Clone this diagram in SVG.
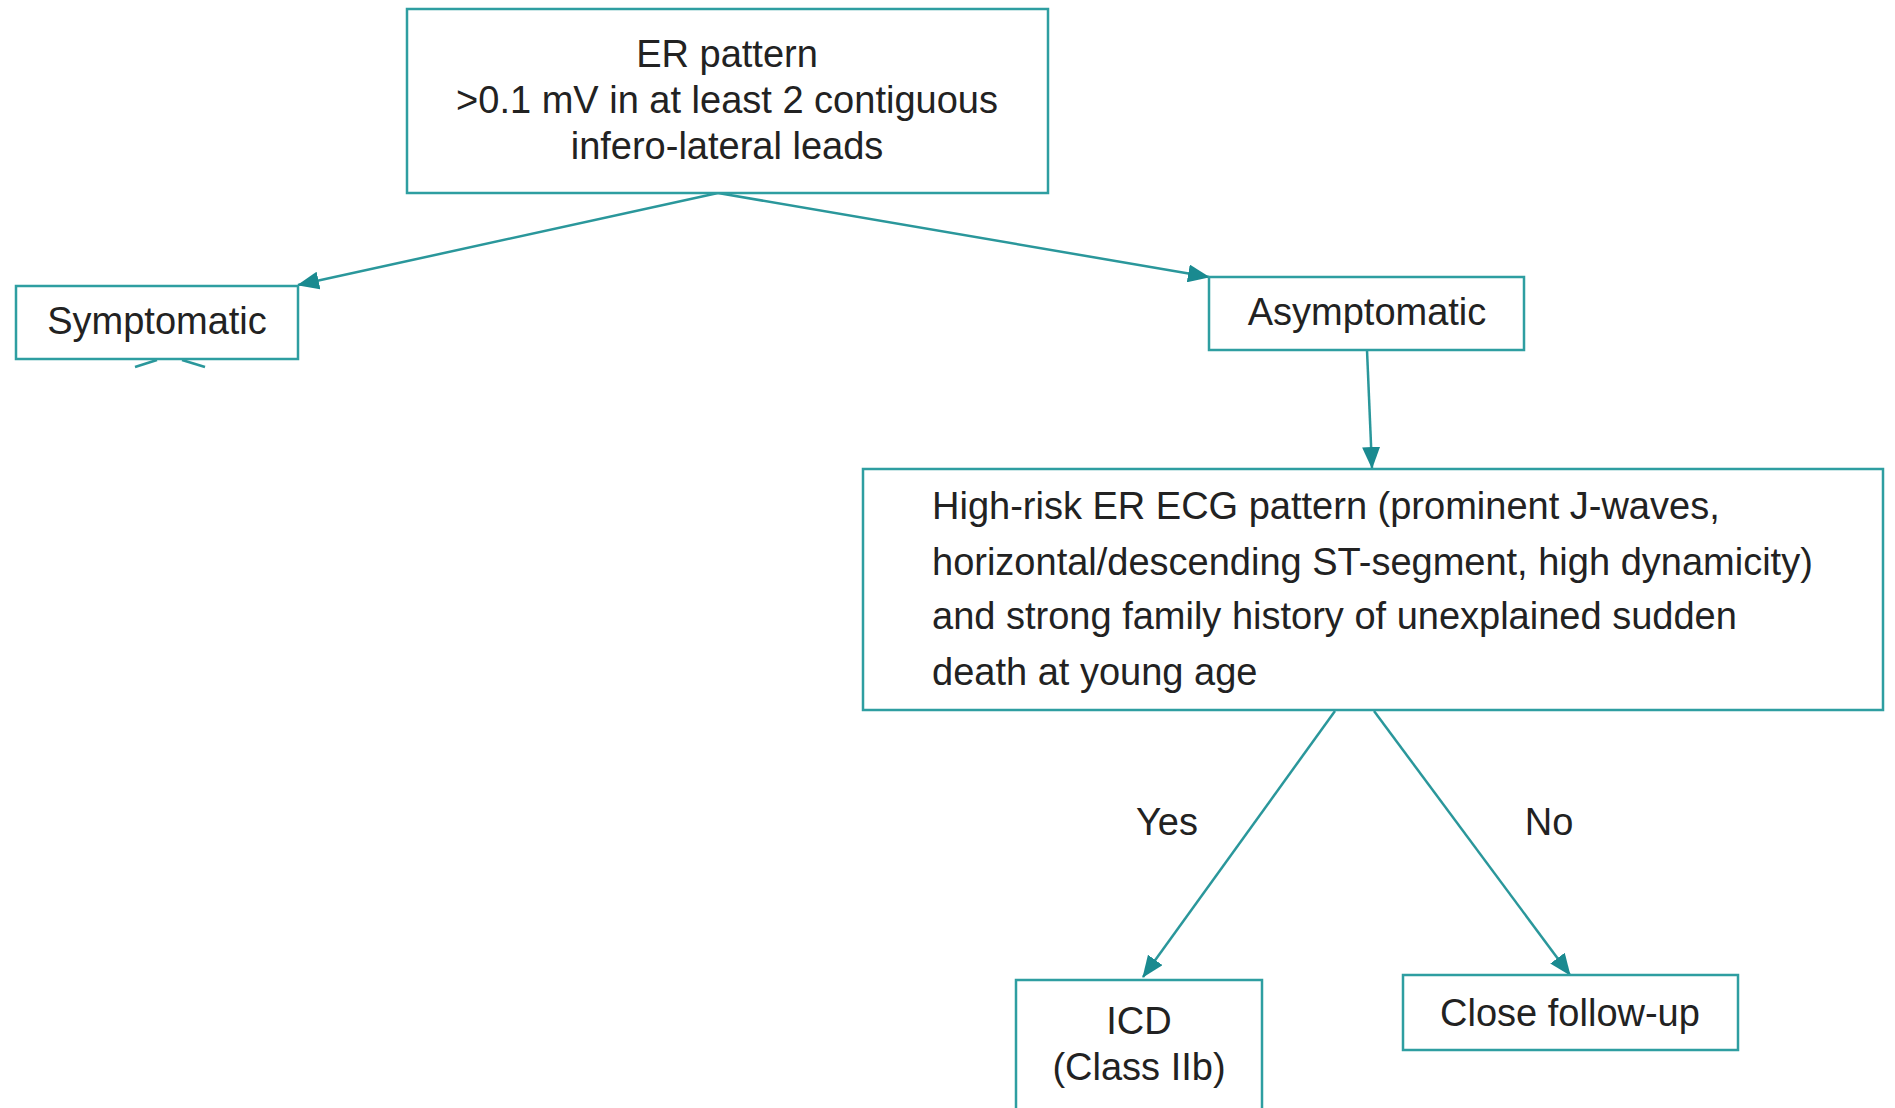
<svg xmlns="http://www.w3.org/2000/svg" width="1895" height="1108" viewBox="0 0 1895 1108">
<defs>
<marker id="arr" markerUnits="userSpaceOnUse" markerWidth="22" markerHeight="18" viewBox="0 0 22 18" refX="21" refY="9" orient="auto">
<path d="M0,0 L22,9 L0,18 Z" fill="#1a8a90"/>
</marker>
<style>
.box{fill:#fff;stroke:#2e9ea1;stroke-width:2.5}
.con{fill:none;stroke:#2a979b;stroke-width:2.5}
text{font-family:"Liberation Sans",Arial,sans-serif;font-size:38px;fill:#222}
.c{text-anchor:middle}
</style>
</defs>
<rect width="1895" height="1108" fill="#fff"/>
<g id="connectors">
<line class="con" x1="718" y1="193" x2="298" y2="285" marker-end="url(#arr)"/>
<line class="con" x1="718" y1="193" x2="1209" y2="277" marker-end="url(#arr)"/>
<line class="con" x1="1367" y1="350" x2="1372" y2="468" marker-end="url(#arr)"/>
<line class="con" x1="1335" y1="711" x2="1143" y2="977" marker-end="url(#arr)"/>
<line class="con" x1="1374" y1="711" x2="1570" y2="975" marker-end="url(#arr)"/>
<line class="con" x1="157" y1="360" x2="135" y2="367"/>
<line class="con" x1="182" y1="360" x2="205" y2="367"/>
<text class="c" x="1167" y="835">Yes</text>
<text class="c" x="1549" y="835">No</text>
</g>
<g id="er-pattern">
<rect class="box" x="407" y="9" width="641" height="184"/>
<text class="c" x="727" y="67">ER pattern</text>
<text class="c" x="727" y="113">&gt;0.1 mV in at least 2 contiguous</text>
<text class="c" x="727" y="159">infero-lateral leads</text>
</g>
<g id="symptomatic">
<rect class="box" x="16" y="286" width="282" height="73"/>
<text class="c" x="157" y="334">Symptomatic</text>
</g>
<g id="asymptomatic">
<rect class="box" x="1209" y="277" width="315" height="73"/>
<text class="c" x="1367" y="325">Asymptomatic</text>
</g>
<g id="high-risk">
<rect class="box" x="863" y="469" width="1020" height="241"/>
<text x="932" y="519">High-risk ER ECG pattern (prominent J-waves,</text>
<text x="932" y="575">horizontal/descending ST-segment, high dynamicity)</text>
<text x="932" y="629">and strong family history of unexplained sudden</text>
<text x="932" y="685">death at young age</text>
</g>
<g id="icd">
<rect class="box" x="1016" y="980" width="246" height="140"/>
<text class="c" x="1139" y="1034">ICD</text>
<text class="c" x="1139" y="1080">(Class IIb)</text>
</g>
<g id="close-follow-up">
<rect class="box" x="1403" y="975" width="335" height="75"/>
<text class="c" x="1570" y="1026">Close follow-up</text>
</g>
</svg>
